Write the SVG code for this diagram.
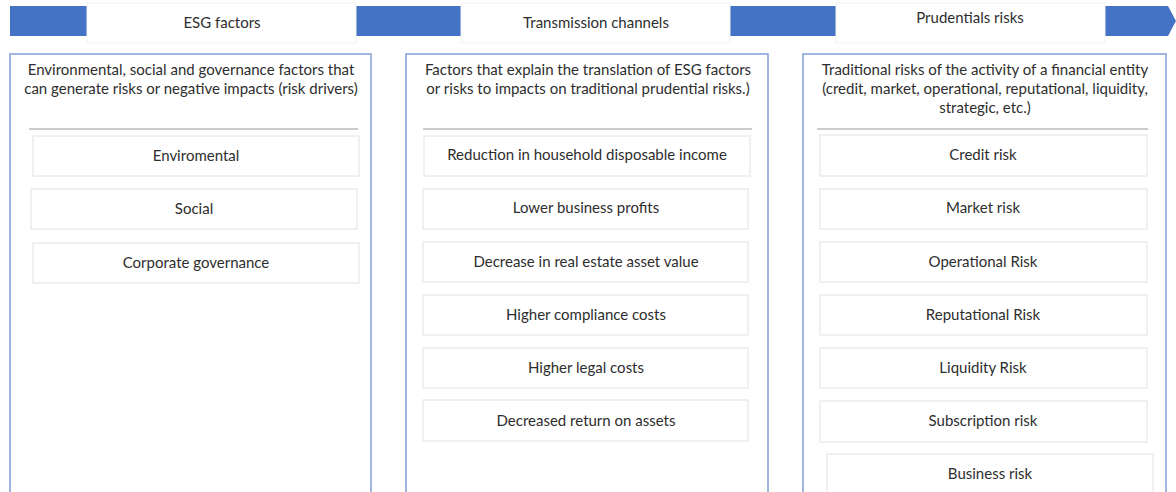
<svg xmlns="http://www.w3.org/2000/svg" width="1176" height="492" viewBox="0 0 1176 492">
  <style>
    text { font-family: "Lato", "Liberation Sans", sans-serif; fill: #2e2e2e; text-anchor: middle; }
    .title { font-size: 15px; }
    .head { font-size: 15px; }
    .item { font-size: 15px; }
    .band { fill: #4472c4; }
    .label-box { fill: #fff; stroke: #f2f2f2; stroke-width: 1; }
    .panel { fill: #fff; stroke: #7f9fd9; stroke-width: 1.5; }
    .rule { stroke: #9a9a9a; stroke-width: 1.2; }
    .box { fill: #fff; stroke: #ececec; stroke-width: 1.5; }
  </style>

  <rect width="1176" height="492" fill="#fff"/>

  <!-- Blue process band with a pointed end -->
  <g id="band">
    <polygon class="band" points="10,6 1168,6 1176,21 1168,36 10,36"/>
  </g>

  <!-- Stage labels sitting on the band -->
  <g id="stage-esg">
    <rect class="label-box" x="87" y="3" width="269" height="40"/>
    <text class="title" x="222" y="28">ESG factors</text>
  </g>
  <g id="stage-transmission">
    <rect class="label-box" x="461" y="3" width="269" height="40"/>
    <text class="title" x="596" y="28">Transmission channels</text>
  </g>
  <g id="stage-prudential">
    <rect class="label-box" x="836" y="3" width="269" height="40"/>
    <text class="title" x="970" y="23">Prudentials risks</text>
  </g>

  <!-- Column 1: ESG factors -->
  <g id="col-esg">
    <rect class="panel" x="10" y="54" width="361" height="450"/>
    <text class="head" x="191" y="75">Environmental, social and governance factors that</text>
    <text class="head" x="191" y="94">can generate risks or negative impacts (risk drivers)</text>
    <line class="rule" x1="29" y1="129" x2="358" y2="129"/>
  </g>
  <g id="esg-environmental">
    <rect class="box" x="33" y="136" width="326" height="40"/>
    <text class="item" x="196" y="161">Enviromental</text>
  </g>
  <g id="esg-social">
    <rect class="box" x="31" y="189" width="326" height="40"/>
    <text class="item" x="194" y="214">Social</text>
  </g>
  <g id="esg-governance">
    <rect class="box" x="33" y="243" width="326" height="40"/>
    <text class="item" x="196" y="268">Corporate governance</text>
  </g>

  <!-- Column 2: transmission channels -->
  <g id="col-transmission">
    <rect class="panel" x="406" y="54" width="362" height="450"/>
    <text class="head" x="588" y="75">Factors that explain the translation of ESG factors</text>
    <text class="head" x="588" y="94">or risks to impacts on traditional prudential risks.)</text>
    <line class="rule" x1="423" y1="129" x2="752" y2="129"/>
  </g>
  <g id="tc-income">
    <rect class="box" x="424" y="136" width="326" height="40"/>
    <text class="item" x="587" y="160">Reduction in household disposable income</text>
  </g>
  <g id="tc-profits">
    <rect class="box" x="423" y="189" width="325" height="40"/>
    <text class="item" x="586" y="213">Lower business profits</text>
  </g>
  <g id="tc-realestate">
    <rect class="box" x="423" y="242" width="325" height="40"/>
    <text class="item" x="586" y="267">Decrease in real estate asset value</text>
  </g>
  <g id="tc-compliance">
    <rect class="box" x="423" y="295" width="325" height="40"/>
    <text class="item" x="586" y="320">Higher compliance costs</text>
  </g>
  <g id="tc-legal">
    <rect class="box" x="423" y="348" width="325" height="40"/>
    <text class="item" x="586" y="373">Higher legal costs</text>
  </g>
  <g id="tc-return">
    <rect class="box" x="423" y="400" width="325" height="41"/>
    <text class="item" x="586" y="426">Decreased return on assets</text>
  </g>

  <!-- Column 3: prudential risks -->
  <g id="col-prudential">
    <rect class="panel" x="803" y="54" width="363" height="450"/>
    <text class="head" x="985" y="75">Traditional risks of the activity of a financial entity</text>
    <text class="head" x="985" y="94">(credit, market, operational, reputational, liquidity,</text>
    <text class="head" x="985" y="113">strategic, etc.)</text>
    <line class="rule" x1="817" y1="129" x2="1148" y2="129"/>
  </g>
  <g id="pr-credit">
    <rect class="box" x="820" y="135" width="327" height="41"/>
    <text class="item" x="983" y="160">Credit risk</text>
  </g>
  <g id="pr-market">
    <rect class="box" x="820" y="189" width="327" height="40"/>
    <text class="item" x="983" y="213">Market risk</text>
  </g>
  <g id="pr-operational">
    <rect class="box" x="820" y="242" width="327" height="40"/>
    <text class="item" x="983" y="267">Operational Risk</text>
  </g>
  <g id="pr-reputational">
    <rect class="box" x="820" y="295" width="327" height="40"/>
    <text class="item" x="983" y="320">Reputational Risk</text>
  </g>
  <g id="pr-liquidity">
    <rect class="box" x="820" y="348" width="327" height="40"/>
    <text class="item" x="983" y="373">Liquidity Risk</text>
  </g>
  <g id="pr-subscription">
    <rect class="box" x="820" y="401" width="327" height="41"/>
    <text class="item" x="983" y="426">Subscription risk</text>
  </g>
  <g id="pr-business">
    <rect class="box" x="827" y="454" width="326" height="50"/>
    <text class="item" x="990" y="479">Business risk</text>
  </g>
</svg>
